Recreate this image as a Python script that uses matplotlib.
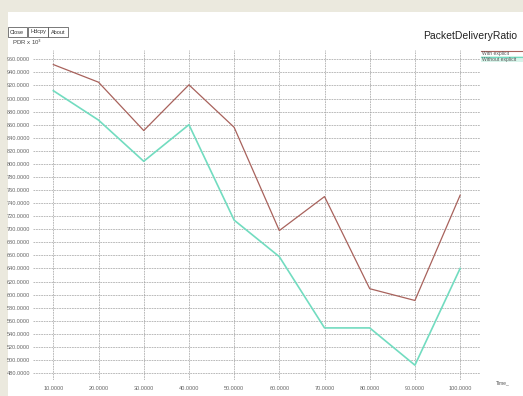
import matplotlib
matplotlib.use("Agg")
import matplotlib.pyplot as plt
from matplotlib.lines import Line2D
from matplotlib.patches import Rectangle

# values (PDR x 10^3)
time_points = [10, 20, 30, 40, 50, 60, 70, 80, 90, 100]
with_explicit = [952, 925, 851, 921, 856, 698, 750, 609, 591, 752]
without_explicit = [912, 867, 804, 860, 714, 658, 549, 549, 492, 640]
y_ticks = list(range(480, 961, 20))
series_names = ["With explicit", "Without explicit"]

W, H = 523, 396
RED = "#a8625c"
GREEN = "#72dcc0"
BEIGE = "#ebe9de"


def fx(px):
    return px / W


def fy(py):
    return 1 - py / H


plt.rcParams["font.family"] = ["Liberation Sans", "DejaVu Sans"]

fig = plt.figure(figsize=(W / 100, H / 100), dpi=100, facecolor=BEIGE)
# white window area
fig.patches.append(Rectangle((fx(8), 0), 1, fy(12), transform=fig.transFigure,
                             facecolor="white", edgecolor="none", zorder=-10))

ax = fig.add_axes([fx(33), fy(380), fx(480) - fx(33), fy(50) - fy(380)])
ax.set_zorder(2)
ax.set_facecolor("none")
ax.set_xlim(5.5, 104.4)
ax.set_ylim(469.3, 974.3)
for s in ax.spines.values():
    s.set_visible(False)
ax.set_xticks(time_points)
ax.set_yticks(y_ticks)
ax.set_xticklabels([f"{v:.4f}" for v in time_points])
ax.set_yticklabels([f"{v:.4f}" for v in y_ticks])
ax.tick_params(length=0, labelsize=4, colors="#666666", pad=2)
ax.tick_params(axis="x", pad=4)
ax.grid(True, linestyle=(0, (2.5, 1.2)), color="#a0a0a0", linewidth=0.5)

ax.plot(time_points, with_explicit, color=RED, lw=0.9)
ax.plot(time_points, without_explicit, color=GREEN, lw=1.2)

# buttons
for label, cx in [("Close", 17), ("Hdcpy", 38), ("About", 58)]:
    fig.text(fx(cx), fy(33.5), label, fontsize=4, ha="center", va="baseline", color="#333333",
             bbox=dict(boxstyle="square,pad=0.45", fc="white", ec="#444444", lw=0.5))

fig.text(fx(12), fy(42), "PDR x 10$^3$", fontsize=4.3, ha="left", va="center", color="#444444")
fig.text(fx(470), fy(36), "PacketDeliveryRatio", fontsize=7.5, ha="center", va="center", color="#222222")
fig.text(fx(496), fy(383), "Time_", fontsize=3.6, ha="left", va="center", color="#555555")

# legend, xgraph style: line above each name
fig.lines.append(Line2D([fx(481), fx(523)], [fy(50.5), fy(50.5)], transform=fig.transFigure,
                        color=RED, lw=0.8))
fig.patches.append(Rectangle((fx(481), fy(62)), fx(523) - fx(481), fy(56) - fy(62),
                             transform=fig.transFigure, facecolor="#d8f4ea", edgecolor="none"))
fig.lines.append(Line2D([fx(481), fx(523)], [fy(56.5), fy(56.5)], transform=fig.transFigure,
                        color=GREEN, lw=0.8))
fig.text(fx(482), fy(53.5), series_names[0], fontsize=3.6, ha="left", va="center", color="#555555")
fig.text(fx(482), fy(59.5), series_names[1], fontsize=3.6, ha="left", va="center", color="#555555")

fig.savefig("out.png", dpi=100, facecolor=BEIGE)
